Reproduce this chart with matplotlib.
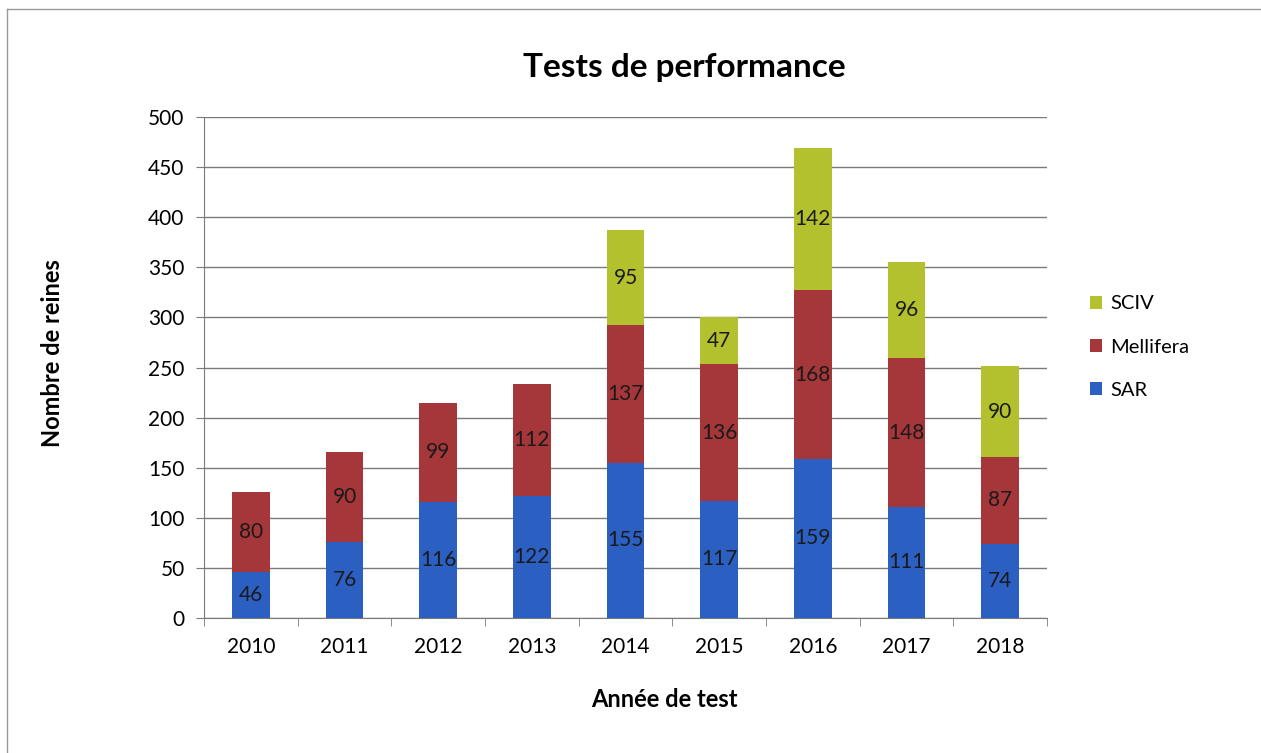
import matplotlib.pyplot as plt
from matplotlib.lines import Line2D

plt.rcParams['font.family'] = ['Lato', 'DejaVu Sans']

years = ["2010", "2011", "2012", "2013", "2014", "2015", "2016", "2017", "2018"]
sar = [46, 76, 116, 122, 155, 117, 159, 111, 74]
mellifera = [80, 90, 99, 112, 137, 136, 168, 148, 87]
sciv = [0, 0, 0, 0, 95, 47, 142, 96, 90]

c_sar = "#2b5fc2"
c_mel = "#a5363a"
c_sciv = "#b4c12e"

fig = plt.figure(figsize=(12.61, 7.53), dpi=100)
ax = fig.add_axes([0.1618, 0.1793, 0.6685, 0.6653])

x = list(range(len(years)))
w = 0.4
ax.bar(x, sar, w, color=c_sar, label="SAR", zorder=3)
ax.bar(x, mellifera, w, bottom=sar, color=c_mel, label="Mellifera", zorder=3)
base2 = [a + b for a, b in zip(sar, mellifera)]
sciv_x = [i for i, v in enumerate(sciv) if v > 0]
ax.bar(sciv_x, [sciv[i] for i in sciv_x], w, bottom=[base2[i] for i in sciv_x],
       color=c_sciv, label="SCIV", zorder=3)

# value labels
fs = 15
for i in x:
    ax.text(i, sar[i] / 2, str(sar[i]), ha="center", va="center", fontsize=fs, color="#1a1a1a", zorder=4)
    ax.text(i, sar[i] + mellifera[i] / 2, str(mellifera[i]), ha="center", va="center",
            fontsize=fs, color="#1a1a1a", zorder=4)
    if sciv[i] > 0:
        ax.text(i, base2[i] + sciv[i] / 2, str(sciv[i]), ha="center", va="center",
                fontsize=fs, color="#1a1a1a", zorder=4)

ax.set_xlim(-0.5, len(years) - 0.5)
ax.set_ylim(0, 500)
ax.set_yticks(range(0, 501, 50))
ax.yaxis.grid(True, color="#7a7a7a", linewidth=1.0, zorder=0)
ax.set_xticks(x)
ax.set_xticklabels(years, fontsize=15)
ax.tick_params(axis="x", length=0, pad=14)
ax.set_xticks([i - 0.5 for i in range(len(years) + 1)], minor=True)
ax.tick_params(axis="x", which="minor", length=6, color="#7a7a7a", direction="out")
ax.tick_params(axis="y", labelsize=15, length=6, color="#7a7a7a", pad=8)
for s in ["top", "right"]:
    ax.spines[s].set_visible(False)
for s in ["left", "bottom"]:
    ax.spines[s].set_color("#7a7a7a")

fig.text(0.5425, 0.91, "Tests de performance", fontsize=24, fontweight="bold",
         ha="center", va="center")
ax.set_xlabel("Année de test", fontsize=17, fontweight="bold")
ax.xaxis.set_label_coords(0.5457, -0.14)
ax.set_ylabel("Nombre de reines", fontsize=17, fontweight="bold")
ax.yaxis.set_label_coords(-0.166, 0.529)

handles, labels = ax.get_legend_handles_labels()
fig.legend(handles[::-1], labels[::-1], loc="center left", bbox_to_anchor=(0.85, 0.539),
           frameon=False, fontsize=14.5, handlelength=0.6, handleheight=0.6,
           labelspacing=1.3, handletextpad=0.4)

# outer border (left and top)
fig.add_artist(Line2D([0.0056, 0.0056], [0.0, 0.988], transform=fig.transFigure, color="#999999", lw=1))
fig.add_artist(Line2D([0.0056, 1.0], [0.988, 0.988], transform=fig.transFigure, color="#999999", lw=1))

fig.savefig("out.png", dpi=100)
